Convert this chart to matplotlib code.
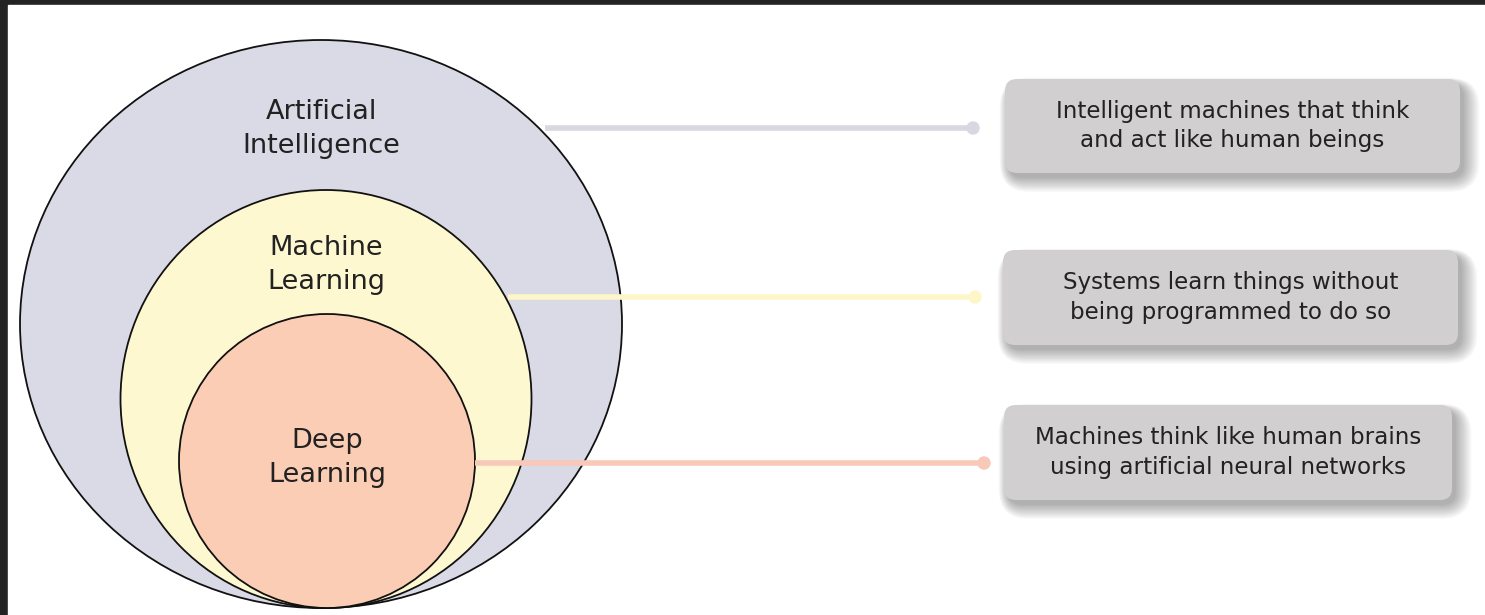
import matplotlib
matplotlib.use("Agg")
import matplotlib.pyplot as plt
from matplotlib.patches import Ellipse, FancyBboxPatch, Rectangle, Circle

# ---- data ----
circle_labels = ["Artificial\nIntelligence", "Machine\nLearning", "Deep\nLearning"]
circle_colors = ["#dadae6", "#fef8d0", "#fbcdb5"]
line_colors = ["#d8d8e2", "#fcf6c8", "#f8c8b8"]
descriptions = ["Intelligent machines that think\nand act like human beings",
                "Systems learn things without\nbeing programmed to do so",
                "Machines think like human brains\nusing artificial neural networks"]

# geometry (pixels)
ell_cx = [321, 326, 327]
ell_w = [602, 411, 296]
ell_h = [568, 418, 294]
bottom = 608
label_y = [129, 265, 458]
line_y = [128, 297, 463]
line_x0 = [545, 508, 475]
line_x1 = [973, 975, 984]
box_x = [1005, 1003, 1004]
box_w = [455, 455, 448]
box_y = [79, 250, 405]
box_h = [94, 95, 95]

W, H = 1485, 615
fig = plt.figure(figsize=(W / 100, H / 100), dpi=100)
ax = fig.add_axes([0, 0, 1, 1])
ax.set_xlim(0, W)
ax.set_ylim(H, 0)
ax.axis("off")

FONT = "DejaVu Sans"

# background + dark frame
ax.add_patch(Rectangle((0, 0), W, H, color="#232323", zorder=0))
ax.add_patch(Rectangle((8, 5), W - 8, H - 5, color="#ffffff", zorder=0.5))

for i in range(3):
    cy = bottom - ell_h[i] / 2
    ax.add_patch(Ellipse((ell_cx[i], cy), ell_w[i], ell_h[i], facecolor=circle_colors[i],
                         edgecolor="#111111", lw=1.3, zorder=1 + i))
    ax.text(ell_cx[i], label_y[i], circle_labels[i], ha="center", va="center",
            fontsize=19.5, color="#222222", family=FONT, linespacing=1.38, zorder=5)

for i in range(3):
    ax.plot([line_x0[i], line_x1[i]], [line_y[i], line_y[i]], color=line_colors[i],
            lw=4, solid_capstyle="butt", zorder=6)
    ax.add_patch(Circle((line_x1[i], line_y[i]), 6, color=line_colors[i], zorder=6))

for i in range(3):
    # soft blurred shadow (stacked translucent layers)
    n = 12
    for k in range(n):
        grow = k * 1.4
        ax.add_patch(FancyBboxPatch((box_x[i] + 4 - grow * 0.6, box_y[i] + 5 - grow * 0.4),
                                    box_w[i] + grow * 1.6, box_h[i] + grow * 1.3,
                                    boxstyle="round,pad=0,rounding_size=%g" % (14 + grow),
                                    facecolor="#000000", edgecolor="none", alpha=0.028,
                                    zorder=7))
    ax.add_patch(FancyBboxPatch((box_x[i], box_y[i]), box_w[i], box_h[i],
                                boxstyle="round,pad=0,rounding_size=12",
                                facecolor="#d1cfd0", edgecolor="none", zorder=8))
    ax.text(box_x[i] + box_w[i] / 2, box_y[i] + box_h[i] / 2, descriptions[i],
            ha="center", va="center", fontsize=16.6, color="#222222", family=FONT,
            linespacing=1.35, zorder=9)

fig.savefig("out.png", dpi=100)
